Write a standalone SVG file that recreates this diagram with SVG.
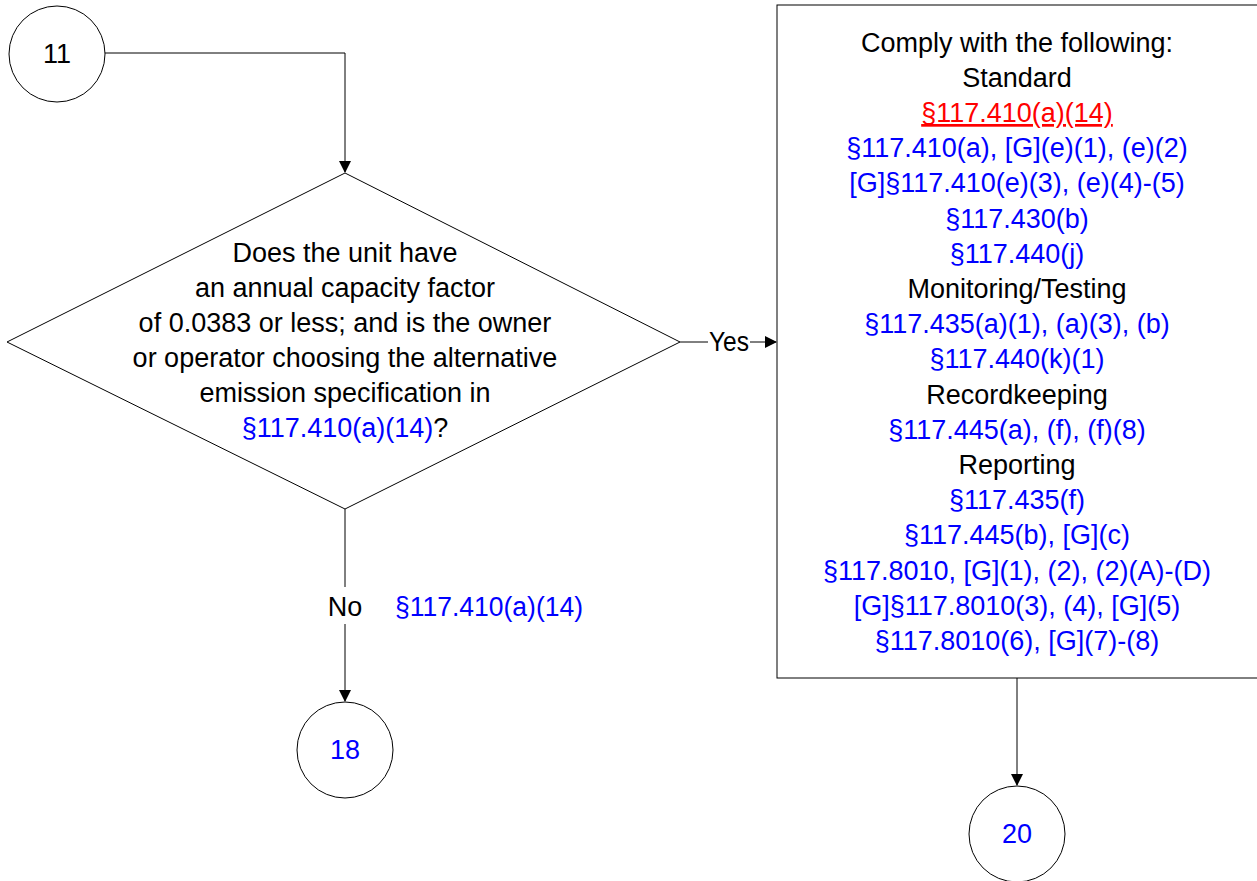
<svg xmlns="http://www.w3.org/2000/svg" width="1257" height="881" viewBox="0 0 1257 881">
<style>
text{font-family:"Liberation Sans",Arial,sans-serif;font-size:27px;fill:#000;text-anchor:middle}
.b{fill:#0000ff}
.r{fill:#ff0000;text-decoration:underline}
.s{fill:#fff;stroke:#000;stroke-width:1}
.c{fill:none;stroke:#000;stroke-width:1}
</style>
<defs>
<marker id="a" markerWidth="12" markerHeight="12" refX="11" refY="6" orient="auto" markerUnits="userSpaceOnUse">
<path d="M0,0 L12,6 L0,12 z" fill="#000"/>
</marker>
</defs>
<g id="connectors">
<path class="c" d="M105,53 H345 V172" marker-end="url(#a)"/>
<path class="c" d="M680,342 H708"/>
<path class="c" d="M750,342 H776" marker-end="url(#a)"/>
<path class="c" d="M345,509 V587"/>
<path class="c" d="M345,624 V701" marker-end="url(#a)"/>
<path class="c" d="M1017,678 V785" marker-end="url(#a)"/>
<text x="729" y="351" textLength="40" lengthAdjust="spacingAndGlyphs">Yes</text>
<text x="345" y="616">No</text>
<text x="489" y="616" class="b" textLength="188" lengthAdjust="spacingAndGlyphs">§117.410(a)(14)</text>
</g>
<g id="n11">
<circle class="s" cx="57" cy="54" r="48"/>
<text x="57" y="63">11</text>
</g>
<g id="decision">
<polygon class="s" points="345,173 680,342 345,509 7,342"/>
<text x="345" y="262">Does the unit have</text>
<text x="345" y="297">an annual capacity factor</text>
<text x="345" y="332">of 0.0383 or less; and is the owner</text>
<text x="345" y="367">or operator choosing the alternative</text>
<text x="345" y="402">emission specification in</text>
<text x="345" y="437"><tspan class="b">§117.410(a)(14)</tspan>?</text>
</g>
<g id="comply">
<rect class="s" x="777" y="5" width="481" height="673"/>
<text x="1017" y="52">Comply with the following:</text>
<text x="1017" y="87">Standard</text>
<text x="1017" y="122" class="r">§117.410(a)(14)</text>
<text x="1017" y="157" class="b">§117.410(a), [G](e)(1), (e)(2)</text>
<text x="1017" y="192" class="b">[G]§117.410(e)(3), (e)(4)-(5)</text>
<text x="1017" y="228" class="b">§117.430(b)</text>
<text x="1017" y="263" class="b">§117.440(j)</text>
<text x="1017" y="298">Monitoring/Testing</text>
<text x="1017" y="333" class="b">§117.435(a)(1), (a)(3), (b)</text>
<text x="1017" y="368" class="b">§117.440(k)(1)</text>
<text x="1017" y="404">Recordkeeping</text>
<text x="1017" y="439" class="b">§117.445(a), (f), (f)(8)</text>
<text x="1017" y="474">Reporting</text>
<text x="1017" y="509" class="b">§117.435(f)</text>
<text x="1017" y="544" class="b">§117.445(b), [G](c)</text>
<text x="1017" y="580" class="b">§117.8010, [G](1), (2), (2)(A)-(D)</text>
<text x="1017" y="615" class="b">[G]§117.8010(3), (4), [G](5)</text>
<text x="1017" y="650" class="b">§117.8010(6), [G](7)-(8)</text>
</g>
<g id="n18">
<circle class="s" cx="345" cy="750" r="48"/>
<text x="345" y="759" class="b">18</text>
</g>
<g id="n20">
<circle class="s" cx="1017" cy="834" r="48"/>
<text x="1017" y="843" class="b">20</text>
</g>
</svg>
